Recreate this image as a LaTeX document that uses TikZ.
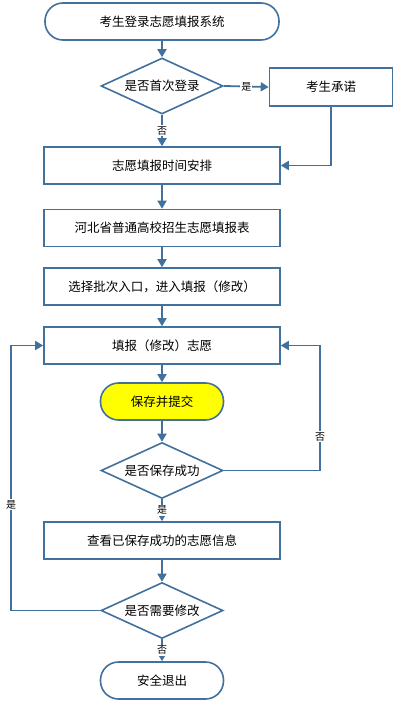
\documentclass[tikz,border=0pt]{standalone}
\usepackage{fontspec}
\setmainfont{Noto Sans CJK SC}
\usetikzlibrary{arrows.meta, shapes.geometric}
\definecolor{flow-blue}{HTML}{41719C}
\definecolor{flow-yellow}{HTML}{FFFF00}

\begin{document}
\begin{tikzpicture}[x=1pt, y=-1pt,
    box/.style={draw=flow-blue, line width=1.6pt, fill=white, minimum width=236pt, minimum height=37pt,
                inner sep=0pt, font=\fontsize{12.5}{14}\selectfont},
    term/.style={box, rounded corners=18pt, minimum width=123pt},
    dec/.style={draw=flow-blue, line width=1.6pt, fill=white, diamond, aspect=2.2, inner sep=0pt,
                minimum width=122pt, minimum height=56pt, font=\fontsize{12.5}{14}\selectfont},
    arr/.style={-{Triangle[length=8pt, width=9pt]}, line width=1.8pt, flow-blue},
    lbl/.style={font=\fontsize{10}{12}\selectfont, fill=white, inner sep=1pt, text=black},
]
    \useasboundingbox (0,0) rectangle (394,701);

    % Login and commitment
    \node[term, minimum width=234pt] (login) at (162, 21.5) {考生登录志愿填报系统};
    \node[dec] (first) at (162, 86) {是否首次登录};
    \node[box, minimum width=123pt, minimum height=38pt] (promise) at (331, 87) {考生承诺};

    % Main steps
    \node[box] (schedule) at (162, 165.5) {志愿填报时间安排};
    \node[box] (form) at (162, 228) {河北省普通高校招生志愿填报表};
    \node[box] (batch) at (162, 286.5) {选择批次入口，进入填报（修改）};
    \node[box] (fill) at (162, 345.5) {填报（修改）志愿};
    \node[term, fill=flow-yellow] (submit) at (162, 401.5) {保存并提交};
    \node[dec] (saveok) at (162, 470.5) {是否保存成功};
    \node[box] (view) at (162, 540.5) {查看已保存成功的志愿信息};
    \node[dec] (modify) at (162, 610.5) {是否需要修改};
    \node[term] (quit) at (162, 680.5) {安全退出};

    % Loop corners
    \coordinate (rbot) at (320, 470.5);
    \coordinate (rtop) at (320, 345.5);
    \coordinate (lbot) at (11, 610.5);
    \coordinate (ltop) at (11, 345.5);

    % Arrows
    \draw[arr] (login) -- (first);
    \draw[arr] (first.east) -- (promise.west) node[midway, lbl] {是};
    \draw[arr] (first.south) -- (schedule.north) node[midway, lbl] {否};
    \draw[arr] (promise.south) |- (schedule.east);
    \draw[arr] (schedule) -- (form);
    \draw[arr] (form) -- (batch);
    \draw[arr] (batch) -- (fill);
    \draw[arr] (fill) -- (submit);
    \draw[arr] (submit) -- (saveok);
    \draw[arr] (saveok.east) -- (rbot) -- node[lbl, pos=0.27] {否} (rtop) -- (fill.east);
    \draw[arr] (saveok.south) -- (view.north) node[midway, lbl] {是};
    \draw[arr] (view) -- (modify);
    \draw[arr] (modify.west) -- (lbot) -- node[lbl, pos=0.4] {是} (ltop) -- (fill.west);
    \draw[arr] (modify.south) -- (quit.north) node[midway, lbl] {否};

\end{tikzpicture}
\end{document}
